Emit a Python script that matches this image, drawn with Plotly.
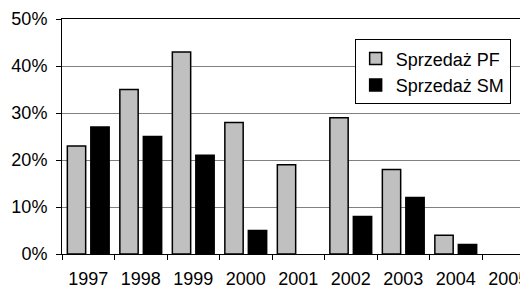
import plotly.graph_objects as go

years = ["1997", "1998", "1999", "2000", "2001", "2002", "2003", "2004", "2005"]
sprzedaz_pf = [0.23, 0.35, 0.43, 0.28, 0.19, 0.29, 0.18, 0.04, 0.0]
sprzedaz_sm = [0.27, 0.25, 0.21, 0.05, 0.0, 0.08, 0.12, 0.02, 0.0]
y_ticks = [0, 0.1, 0.2, 0.3, 0.4, 0.5]

FONT = "Liberation Sans, Arial, sans-serif"


def outline_widths(values):
    # no outline stub for empty (zero) bars
    return [1.5 if v else 0 for v in values]


fig = go.Figure()
fig.add_trace(go.Bar(
    x=years, y=sprzedaz_pf, name="Sprzedaż PF", legendgroup="pf",
    marker=dict(color="#C0C0C0", line=dict(color="black", width=outline_widths(sprzedaz_pf))),
))
fig.add_trace(go.Bar(
    x=years, y=sprzedaz_sm, name="Sprzedaż SM", legendgroup="sm",
    marker=dict(color="black", line=dict(color="black", width=outline_widths(sprzedaz_sm))),
))

# page body has an 8px default margin, so the figure is 520x280
fig.update_layout(
    width=520, height=280,
    margin=dict(l=54, r=0, t=11, b=34, autoexpand=False),
    paper_bgcolor="white", plot_bgcolor="white",
    font=dict(family=FONT, size=18, color="black"),
    barmode="group", bargap=0.105, bargroupgap=0.22,
    showlegend=True,
    legend=dict(
        x=0.628, y=0.9136, xanchor="left", yanchor="top",
        bgcolor="white", bordercolor="black", borderwidth=1,
        font=dict(family=FONT, size=18, color="black"),
        tracegroupgap=4, traceorder="normal",
    ),
    xaxis=dict(
        type="category", range=[-0.5, 8.376], automargin=False,
        showline=True, linecolor="black", linewidth=1, mirror=True,
        ticks="outside", tickson="boundaries", ticklen=5, tickcolor="black",
        ticklabelstandoff=8,
        showgrid=False, zeroline=False, fixedrange=True,
    ),
    yaxis=dict(
        range=[0, 0.5], tickvals=y_ticks, tickformat=".0%", automargin=False,
        showline=True, linecolor="black", linewidth=1,
        ticks="outside", ticklen=5, tickcolor="black",
        showgrid=True, gridcolor="#808080", gridwidth=1,
        zeroline=False, ticklabelstandoff=5,
    ),
)

fig.write_html("out.html")
